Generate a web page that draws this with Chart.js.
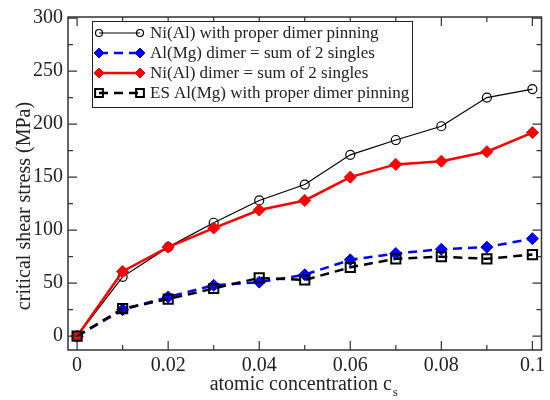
<!DOCTYPE html>
<html>
<head>
<meta charset="utf-8">
<script src="https://cdn.jsdelivr.net/npm/chart.js@4.4.0/dist/chart.umd.min.js"></script>
<style>
  html, body { margin: 0; padding: 0; background: #fff; }
  #wrap { width: 550px; height: 400px; }
</style>
</head>
<body>
<div id="wrap"><canvas id="myChart"></canvas></div>
<script>
// values
let conc = [0, 0.01, 0.02, 0.03, 0.04, 0.05, 0.06, 0.07, 0.08, 0.09, 0.1]
let niProper = [0, 56, 84, 107, 128, 143, 171, 185, 198, 225, 233]
let alMgSum = [0, 25, 37, 48, 51, 58, 72, 78, 82, 84, 92]
let niSum = [0, 61, 84, 102, 119, 128, 150, 162, 165, 174, 192]
let esAlMgProper = [0, 26, 35, 45, 55, 53, 65, 73, 75, 73, 77]

let xTicks = [0, 0.02, 0.04, 0.06, 0.08, 0.1]
let xMinor = [0.01, 0.03, 0.05, 0.07, 0.09]
let yTicks = [0, 50, 100, 150, 200, 250, 300]
let yMinor = [25, 75, 125, 175, 225, 275]

let seriesNames = [
  'Ni(Al) with proper dimer pinning',
  'Al(Mg) dimer = sum of 2 singles',
  'Ni(Al) dimer = sum of 2 singles',
  'ES Al(Mg) with proper dimer pinning'
]

const toPoints = (vals) => vals.map((y, i) => {
  return { x: conc[i], y: y }
})

const serif = '"Liberation Serif", "DejaVu Serif", serif'

// frame with inward ticks on all four sides, axis titles, boxed legend
const framePlugin = {
  id: 'framePlugin',
  afterDatasetsDraw(chart) {
    const ctx = chart.ctx
    const a = chart.chartArea
    const xs = chart.scales.x
    const ys = chart.scales.y
    ctx.save()
    ctx.strokeStyle = '#333'
    ctx.lineWidth = 1.5
    ctx.strokeRect(a.left, a.top, a.right - a.left, a.bottom - a.top)

    ctx.lineWidth = 1.2
    ctx.beginPath()
    const xt = (v, len) => {
      let px = xs.getPixelForValue(v)
      ctx.moveTo(px, a.bottom); ctx.lineTo(px, a.bottom - len)
      ctx.moveTo(px, a.top); ctx.lineTo(px, a.top + len)
    }
    const yt = (v, len) => {
      let py = ys.getPixelForValue(v)
      ctx.moveTo(a.left, py); ctx.lineTo(a.left + len, py)
      ctx.moveTo(a.right, py); ctx.lineTo(a.right - len, py)
    }
    xTicks.forEach(v => xt(v, 9))
    xMinor.forEach(v => xt(v, 5))
    yTicks.forEach(v => yt(v, 9))
    yMinor.forEach(v => yt(v, 5))
    ctx.stroke()

    // x title with subscript
    ctx.fillStyle = '#222'
    ctx.font = '20px ' + serif
    ctx.textBaseline = 'alphabetic'
    let main = 'atomic concentration c'
    let w = ctx.measureText(main).width
    let cx = (a.left + a.right) / 2 - 4
    ctx.textAlign = 'left'
    ctx.fillText(main, cx - w / 2, 390)
    ctx.font = '13px ' + serif
    ctx.fillText('s', cx + w / 2 + 1, 396)

    // y title
    ctx.font = '20px ' + serif
    ctx.translate(25, 206)
    ctx.rotate(-Math.PI / 2)
    ctx.textAlign = 'center'
    ctx.textBaseline = 'middle'
    ctx.fillText('critical shear stress (MPa)', 0, 0)
    ctx.restore()

    // legend box
    ctx.save()
    ctx.fillStyle = '#fff'
    ctx.fillRect(92, 21, 320, 86)
    ctx.strokeStyle = '#222'
    ctx.lineWidth = 1
    ctx.strokeRect(92.5, 21.5, 320, 86)
    chart.data.datasets.forEach((ds, i) => {
      let y = 33 + i * 20
      ctx.save()
      ctx.strokeStyle = ds.borderColor
      ctx.lineWidth = ds.borderWidth
      ctx.setLineDash(ds.borderDash || [])
      ctx.beginPath()
      ctx.moveTo(99, y); ctx.lineTo(140, y)
      ctx.stroke()
      ctx.setLineDash([])
      ctx.fillStyle = ds.pointBackgroundColor
      ctx.strokeStyle = ds.pointBorderColor
      ctx.lineWidth = ds.pointBorderWidth
      let opts = { pointStyle: ds.pointStyle, radius: ds.pointRadius - 1, rotation: 0, borderWidth: ds.pointBorderWidth }
      Chart.helpers.drawPoint(ctx, opts, 99, y)
      Chart.helpers.drawPoint(ctx, opts, 140, y)
      ctx.restore()
      ctx.fillStyle = '#222'
      ctx.font = '17px ' + serif
      ctx.textAlign = 'left'
      ctx.textBaseline = 'middle'
      ctx.fillText(seriesNames[i], 150, y + 1)
    })
    ctx.restore()
  }
}

var myChart = document.getElementById('myChart').getContext('2d')

var stressChart = new Chart(myChart, {
  type: 'scatter',
  data: {
    datasets: [{
      label: seriesNames[0],
      data: toPoints(niProper),
      showLine: true,
      borderColor: '#000',
      borderWidth: 1.2,
      pointStyle: 'circle',
      pointRadius: 4.5,
      pointBackgroundColor: 'rgba(0,0,0,0)',
      pointBorderColor: '#000',
      pointBorderWidth: 1.2,
      order: 3
    }, {
      label: seriesNames[1],
      data: toPoints(alMgSum),
      showLine: true,
      borderColor: '#0000ff',
      borderWidth: 2.5,
      borderDash: [9, 6],
      pointStyle: 'rectRot',
      pointRadius: 6,
      pointBackgroundColor: '#0000ff',
      pointBorderColor: '#0000ff',
      pointBorderWidth: 1,
      order: 2
    }, {
      label: seriesNames[2],
      data: toPoints(niSum),
      showLine: true,
      borderColor: '#ff0000',
      borderWidth: 2.5,
      pointStyle: 'rectRot',
      pointRadius: 6,
      pointBackgroundColor: '#ff0000',
      pointBorderColor: '#ff0000',
      pointBorderWidth: 1,
      order: 1
    }, {
      label: seriesNames[3],
      data: toPoints(esAlMgProper),
      showLine: true,
      borderColor: '#000',
      borderWidth: 2.5,
      borderDash: [9, 6],
      pointStyle: 'rect',
      pointRadius: 6.5,
      pointBackgroundColor: 'rgba(0,0,0,0)',
      pointBorderColor: '#000',
      pointBorderWidth: 2,
      order: 0
    }]
  },
  options: {
    responsive: true,
    maintainAspectRatio: false,
    animation: false,
    layout: { padding: { top: 13, right: 5, left: 0, bottom: 0 } },
    scales: {
      x: {
        type: 'linear',
        position: 'bottom',
        min: -0.002,
        max: 0.102,
        afterBuildTicks: (scale) => { scale.ticks = xTicks.map(v => ({ value: v })) },
        afterFit: (scale) => { scale.height = 50 },
        grid: { display: false, drawTicks: false },
        border: { display: false },
        ticks: {
          padding: 4,
          color: '#222',
          font: { family: serif, size: 20 },
          maxRotation: 0,
          callback: (v) => String(+Number(v).toFixed(2))
        }
      },
      y: {
        min: -13,
        max: 301,
        afterBuildTicks: (scale) => { scale.ticks = yTicks.map(v => ({ value: v })) },
        afterFit: (scale) => { scale.width = 68 },
        grid: { display: false, drawTicks: false },
        border: { display: false },
        ticks: {
          padding: 5,
          color: '#222',
          font: { family: serif, size: 20 }
        }
      }
    },
    plugins: {
      legend: { display: false },
      tooltip: { enabled: false }
    }
  },
  plugins: [framePlugin]
})
</script>
</body>
</html>
